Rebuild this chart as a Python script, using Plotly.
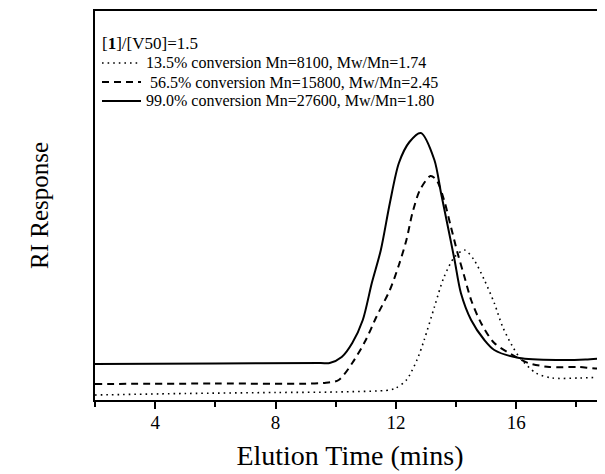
import plotly.graph_objects as go

# Elution time (mins) and RI response (arbitrary units)
t_low = [2.0, 5.0, 8.0, 10.0, 11.8, 12.0, 12.35, 12.7, 12.94, 13.28, 13.6, 13.95, 14.28,
         14.6, 14.94, 15.27, 15.55, 15.85, 16.1, 16.65, 17.2, 18.1, 18.95]
ri_low = [5, 6.5, 7.5, 8, 10, 12, 20, 40, 60, 93, 123, 143, 150,
          140, 120, 97, 73, 55, 43, 27, 22, 22, 23]

t_mid = [2.0, 6.0, 9.6, 10.1, 10.55, 11.0, 11.35, 11.8, 12.1, 12.35, 12.55, 12.8, 13.15,
         13.35, 13.6, 13.83, 14.05, 14.28, 14.5, 14.83, 15.27, 16.0, 16.4, 17.1, 18.1, 18.75, 18.95]
ri_mid = [16, 16.5, 17, 20, 37, 60, 83, 110, 135, 160, 187, 210, 224,
          220, 200, 173, 147, 123, 100, 77, 57, 43, 37, 33, 33, 32, 38]

t_high = [2.0, 6.0, 9.5, 9.8, 10.2, 10.55, 10.9, 11.2, 11.5, 11.8, 12.1, 12.45, 12.83,
          13.28, 13.5, 13.73, 13.95, 14.16, 14.5, 14.94, 15.27, 16.1, 17.4, 18.3, 18.95]
ri_high = [36, 36.5, 37, 37, 43, 57, 80, 117, 150, 197, 237, 258, 267,
           240, 207, 173, 140, 107, 80, 60, 50, 42, 40, 40.5, 42]

series_names = [
    "13.5% conversion Mn=8100, Mw/Mn=1.74",
    "56.5% conversion Mn=15800, Mw/Mn=2.45",
    "99.0% conversion Mn=27600, Mw/Mn=1.80",
]
legend_title = "[<b>1</b>]/[V50]=1.5"
x_ticks = [4, 8, 12, 16]

FONT = "Liberation Serif, Times New Roman, serif"
# page has an 8px body margin; figure sized to fill the rest of the 605x474 window
W, H = 597, 466
ML, MR, MT, MB = 87, 0, 3, 74
PW, PH = W - ML - MR, H - MT - MB
OFF = 8

def px(xpage):
    return (xpage - OFF - ML) / PW

def py(ypage):
    return (H - MB - (ypage - OFF)) / PH

dashes = ["1.6px,4px", "7px,5px", "solid"]
widths = [1.6, 2, 2]
LEG_SIZE = 16

fig = go.Figure()
for t, ri, name, d, w in zip([t_low, t_mid, t_high], [ri_low, ri_mid, ri_high], series_names, dashes, widths):
    fig.add_trace(go.Scatter(x=t, y=ri, mode="lines", name=name, showlegend=False,
                             line=dict(color="black", width=w, dash=d, shape="spline", smoothing=0.8)))

# legend block (key lines + text)
annotations = [dict(xref="paper", yref="paper", x=px(100), y=py(44), xanchor="left", yanchor="middle",
                    text=legend_title, showarrow=False, font=dict(family=FONT, size=LEG_SIZE + 1, color="black"))]
shapes = []
row_y = [63, 82, 101]
text_x = [144, 148, 144]
for i, name in enumerate(series_names):
    annotations.append(dict(xref="paper", yref="paper", x=px(text_x[i]), y=py(row_y[i]),
                            xanchor="left", yanchor="middle", text=name, showarrow=False,
                            font=dict(family=FONT, size=LEG_SIZE, color="black")))
    shapes.append(dict(type="line", xref="paper", yref="paper",
                       x0=px(102), x1=px(141), y0=py(row_y[i]), y1=py(row_y[i]),
                       line=dict(color="black", width=widths[i], dash=dashes[i])))

fig.update_layout(
    width=W, height=H,
    margin=dict(l=ML, r=MR, t=MT, b=MB),
    paper_bgcolor="white", plot_bgcolor="white",
    font=dict(family=FONT, color="black"),
    showlegend=False,
    annotations=annotations,
    shapes=shapes,
    xaxis=dict(
        range=[2, 18.95], automargin=False,
        tickmode="array", tickvals=x_ticks, ticktext=[str(v) for v in x_ticks],
        ticks="outside", ticklen=7, tickwidth=1.5, tickcolor="black",
        minor=dict(dtick=2, tick0=0, ticks="outside", ticklen=5, tickwidth=1.5, tickcolor="black"),
        showline=True, linecolor="black", linewidth=2, mirror=True,
        showgrid=False, zeroline=False,
        ticklabelstandoff=-3,
        tickfont=dict(family=FONT, size=19, color="black"),
        title=dict(text="Elution Time (mins)", font=dict(family=FONT, size=28, color="black"), standoff=14),
    ),
    yaxis=dict(
        range=[0, 389], automargin=False,
        showticklabels=False, ticks="",
        showline=True, linecolor="black", linewidth=2,
        showgrid=False, zeroline=False,
        title=dict(text="RI Response", font=dict(family=FONT, size=25, color="black"), standoff=37),
    ),
)

fig.write_html("out.html")
